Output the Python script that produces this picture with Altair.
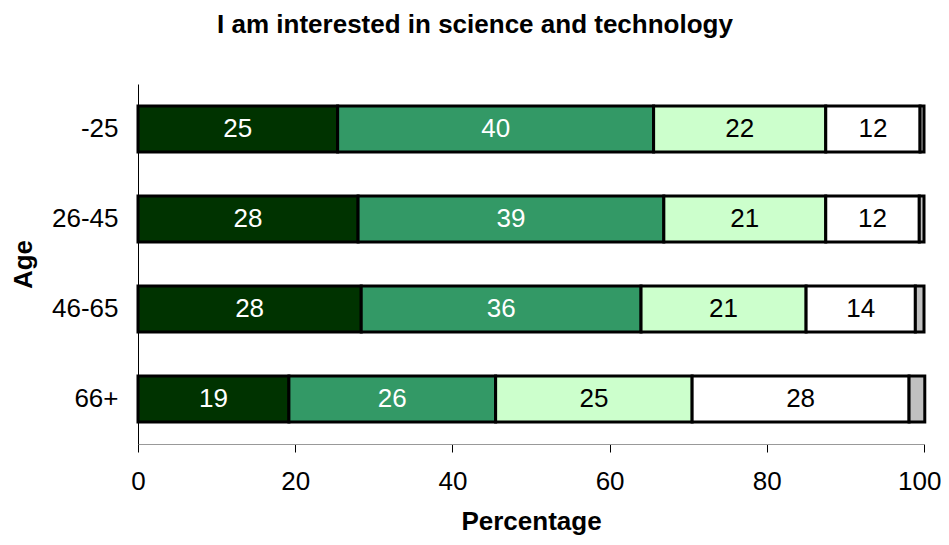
import altair as alt
import pandas as pd

ages = ["-25", "26-45", "46-65", "66+"]
categories = ["Strongly agree", "Agree", "Neutral", "Disagree", "Don't know"]
colors = ["#003300", "#339966", "#CCFFCC", "#FFFFFF", "#C0C0C0"]
text_colors = ["white", "white", "black", "black", "black"]
values = {
    "-25":   [25.4, 40.2, 21.9, 12.0, 0.5],
    "26-45": [28.0, 38.9, 20.6, 11.9, 0.6],
    "46-65": [28.4, 35.6, 21.0, 13.9, 1.1],
    "66+":   [19.2, 26.3, 25.0, 27.6, 2.0],
}

rows = []
for age in ages:
    start = 0.0
    for i, (cat, v) in enumerate(zip(categories, values[age])):
        rows.append({
            "age": age, "cat": cat, "order": i, "value": v,
            "x0": start, "x1": start + v, "mid": start + v / 2,
            "label": str(int(round(v))) if v >= 5 else "",
            "tcolor": text_colors[i],
        })
        start += v
df = pd.DataFrame(rows)

FONT = "Liberation Sans"
FS = 26

y_enc = alt.Y("age:N", sort=ages, title="Age",
              scale=alt.Scale(paddingInner=0.49, paddingOuter=0.245),
              axis=alt.Axis(labelFontSize=FS, labelFont=FONT, labelColor="black",
                            ticks=False, labelPadding=20, domainColor="black",
                            titleFontSize=FS, titleFont=FONT, titleFontWeight="bold",
                            titleColor="black", titlePadding=15))

bars = alt.Chart(df).mark_bar(stroke="black", strokeWidth=3).encode(
    x=alt.X("x0:Q", scale=alt.Scale(domain=[0, 100], nice=False), title="Percentage",
            axis=alt.Axis(values=[0, 20, 40, 60, 80, 100], grid=False, tickSize=8,
                          tickColor="black", domainColor="#999999",
                          labelFlush=False, labelOverlap=False,
                          labelAlign=alt.expr("datum.value == 100 ? 'right' : 'center'"),
                          labelOffset=alt.expr("datum.value == 100 ? 17 : 0"),
                          labelFontSize=FS, labelFont=FONT, labelColor="black",
                          labelPadding=16, titleFontSize=FS, titleFont=FONT,
                          titleFontWeight="bold", titleColor="black", titlePadding=14)),
    x2="x1:Q",
    y=y_enc,
    color=alt.Color("cat:N", scale=alt.Scale(domain=categories, range=colors), legend=None),
)

labels = alt.Chart(df).mark_text(fontSize=FS, font=FONT, baseline="middle").encode(
    x="mid:Q",
    y=alt.Y("age:N", sort=ages),
    text="label:N",
    color=alt.Color("tcolor:N", scale=None),
)

chart = alt.layer(bars, labels).properties(
    width=786, height=360,
    title=alt.Title("I am interested in science and technology", fontSize=FS,
                    font=FONT, fontWeight="bold", color="black",
                    anchor="middle", dx=-56, offset=46),
    padding={"left": 130, "top": 76, "right": 17, "bottom": 93},
    autosize=alt.AutoSizeParams(type="none"),
    background="white",
).configure_view(stroke=None, strokeWidth=0)

chart.save("out.html", embed_options={"renderer": "svg", "actions": False})
